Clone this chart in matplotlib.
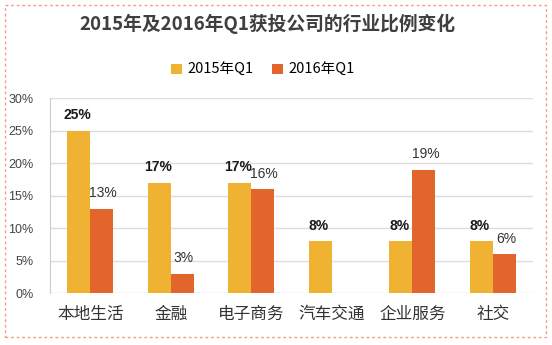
import matplotlib.pyplot as plt
from matplotlib.patches import Rectangle
import numpy as np

plt.rcParams['font.family'] = ['Noto Sans CJK SC', 'DejaVu Sans']

categories = ['本地生活', '金融', '电子商务', '汽车交通', '企业服务', '社交']
q1_2015 = [25, 17, 17, 8, 8, 8]
q1_2016 = [13, 3, 16, 0, 19, 6]
series_names = ['2015年Q1', '2016年Q1']
yticks = [0, 5, 10, 15, 20, 25, 30]

c2015 = '#F0B232'
c2016 = '#E2652B'

fig = plt.figure(figsize=(5.52, 3.45), dpi=100)
ax = fig.add_axes([50/552, 1 - 293/345, 483/552, 195/345])

x = np.arange(len(categories))
w = 0.285
b1 = ax.bar(x - w/2, q1_2015, w, color=c2015, label=series_names[0], zorder=2)
b2 = ax.bar(x + w/2, q1_2016, w, color=c2016, label=series_names[1], zorder=2)

for i, v in enumerate(q1_2015):
    ax.text(x[i] - w/2 - 0.02, v + 1.3, f'{v}%', ha='center', va='bottom',
            fontsize=10, color='#1a1a1a', fontweight='bold', family='Liberation Sans')
for i, v in enumerate(q1_2016):
    if v == 0:
        continue
    ax.text(x[i] + w/2 + 0.02, v + 1.3, f'{v}%', ha='center', va='bottom',
            fontsize=10, color='#333333', family='Liberation Sans')

ax.set_xlim(-0.5, len(categories) - 0.5)
ax.set_ylim(0, 30)
ax.set_yticks(yticks)
ax.set_yticklabels([f'{t}%' for t in yticks], fontsize=9, color='#444444',
                   family='Liberation Sans')
ax.set_xticks(x)
ax.set_xticklabels(categories, fontsize=12, color='#333333')
ax.tick_params(axis='both', length=0)
ax.tick_params(axis='y', pad=12)
ax.tick_params(axis='x', pad=9)
ax.grid(axis='y', color='#dddddd', linewidth=1, zorder=0)
for s in ['top', 'right', 'bottom']:
    ax.spines[s].set_visible(False)
ax.spines['left'].set_color('#cccccc')

fig.text(0.485, 1 - 24/345, '2015年及2016年Q1获投公司的行业比例变化', ha='center', va='center',
         fontsize=13.5, fontweight='bold', color='#3f3f3f')
fig.legend(handles=[b1, b2], loc='center', bbox_to_anchor=(263/552, 1 - 70/345), ncol=2,
           frameon=False, fontsize=10.5, handlelength=0.7, handleheight=0.7,
           columnspacing=1.3, handletextpad=0.4)

fig.patches.append(Rectangle((5/552, 1 - 337/345), 541/552, 332/345, transform=fig.transFigure,
                             fill=False, edgecolor='#F0A080', linestyle=(0, (2, 2)), linewidth=1))

fig.savefig('out.png', dpi=100)
